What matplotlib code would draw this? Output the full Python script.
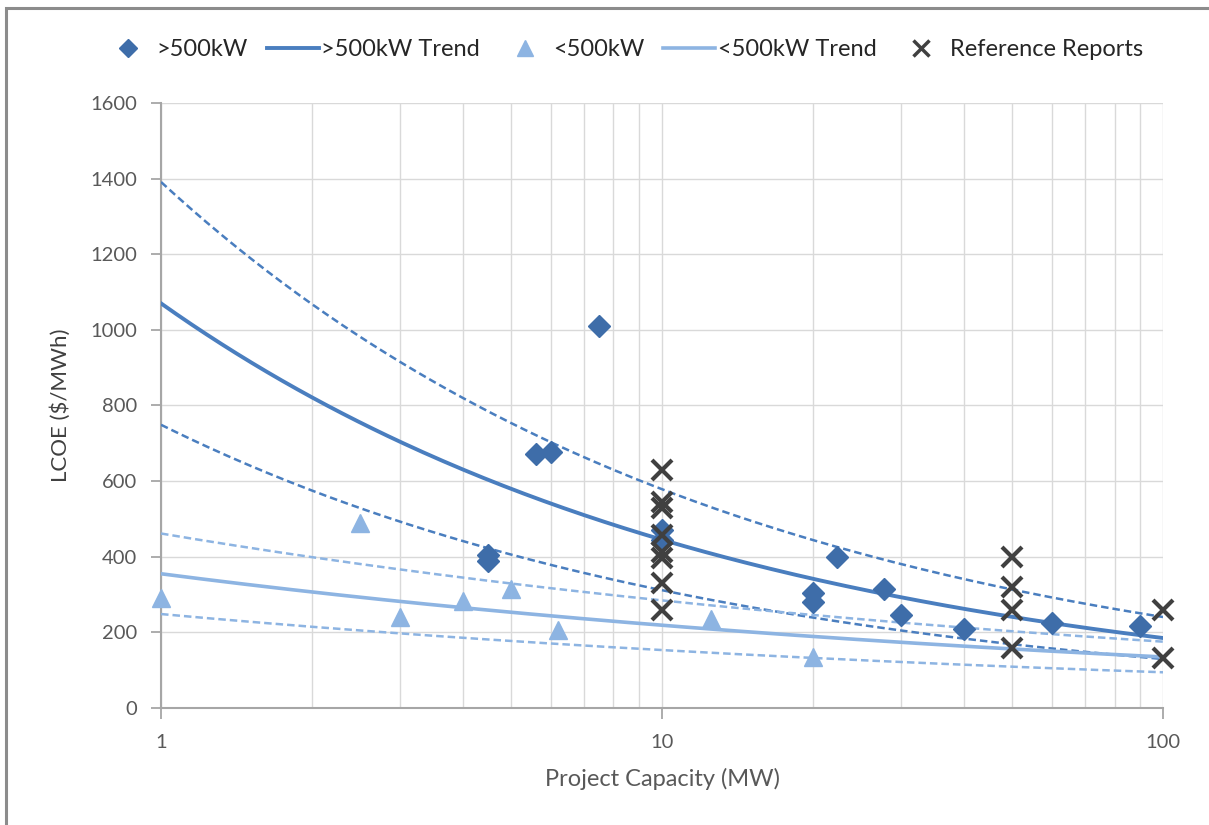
import numpy as np
import matplotlib.pyplot as plt
from matplotlib.patches import Rectangle
from matplotlib.lines import Line2D
from matplotlib.ticker import FixedLocator, NullFormatter

plt.rcParams['font.family'] = ['Lato', 'DejaVu Sans']

# >500kW projects
big_x = [4.5, 4.5, 5.6, 6.0, 7.5, 10, 10, 20, 20, 22.3, 27.7, 30, 40, 60, 90]
big_y = [404, 388, 672, 678, 1010, 471, 444, 303, 281, 400, 316, 246, 208, 226, 217]

# <500kW projects
small_x = [1, 2.5, 3, 4, 5, 6.2, 12.5, 20]
small_y = [290, 490, 241, 284, 316, 206, 235, 135]

# reference reports
ref_x = [10, 10, 10, 10, 10, 10, 10, 10, 50, 50, 50, 50, 100, 100]
ref_y = [629, 546, 529, 457, 413, 397, 330, 259, 400, 321, 259, 158, 259, 131]

# power trend lines y = a * x^b, with +/-30% bands
trend_big = (1070, -0.381)
trend_small = (355, -0.21)
band = 0.3

dark_blue = '#3E6DA9'
mid_blue = '#4A7EBF'
light_blue = '#8DB4E2'
grey = '#404040'

fig = plt.figure(figsize=(12.09, 8.25), dpi=100)
ax = fig.add_axes([0.1332, 0.1418, 0.8288, 0.7334])

xs = np.logspace(0, 2, 200)
for (a, b), col, lw in [(trend_big, mid_blue, 2.8), (trend_small, light_blue, 2.6)]:
    yt = a * xs ** b
    ax.plot(xs, yt, color=col, lw=lw, zorder=3)
    ax.plot(xs, yt * (1 + band), color=col, lw=1.8, dashes=(3, 1.6), zorder=3)
    ax.plot(xs, yt * (1 - band), color=col, lw=1.8, dashes=(3, 1.6), zorder=3)

ax.plot(big_x, big_y, 'D', color=dark_blue, ms=11.5, mec=dark_blue, zorder=4, clip_on=False)
ax.plot(small_x, small_y, '^', color=light_blue, ms=13, mec=light_blue, zorder=4, clip_on=False)
ax.plot(ref_x, ref_y, 'x', color=grey, ms=14, mew=3, zorder=5, clip_on=False)

ax.set_xscale('log')
ax.set_xlim(1, 100)
ax.set_ylim(0, 1600)
ax.set_yticks(range(0, 1601, 200))
ax.set_xticks([1, 10, 100])
ax.set_xticklabels(['1', '10', '100'])
ax.xaxis.set_minor_locator(FixedLocator([m * d for d in (1, 10) for m in range(2, 10)]))
ax.xaxis.set_minor_formatter(NullFormatter())

ax.grid(True, which='both', axis='x', color='#D9D9D9', lw=1)
ax.grid(True, which='major', axis='y', color='#D9D9D9', lw=1)
ax.set_axisbelow(True)

for s in ['top', 'right']:
    ax.spines[s].set_visible(False)
for s in ['left', 'bottom']:
    ax.spines[s].set_color('#A6A6A6')
    ax.spines[s].set_linewidth(1.5)

ax.tick_params(axis='x', which='major', length=8, width=1.3, color='#A6A6A6',
               labelsize=14.5, labelcolor='#595959', pad=11)
ax.tick_params(axis='x', which='minor', length=0)
ax.tick_params(axis='y', length=7, width=1.3, color='#A6A6A6',
               labelsize=14.5, labelcolor='#595959', pad=10)

ax.set_xlabel('Project Capacity (MW)', fontsize=17, color='#595959', labelpad=12)
ax.set_ylabel(r'LCOE (\$/MWh)', fontsize=16, color='#404040', labelpad=14)

handles = [
    Line2D([], [], marker='D', ls='none', color=dark_blue, ms=9),
    Line2D([], [], color=mid_blue, lw=2.8),
    Line2D([], [], marker='^', ls='none', color=light_blue, ms=11),
    Line2D([], [], color=light_blue, lw=2.6),
    Line2D([], [], marker='x', ls='none', color=grey, ms=12, mew=2.5),
]
labels = ['>500kW', '>500kW Trend', '<500kW', '<500kW Trend', 'Reference Reports']
fig.legend(handles, labels, loc='center', bbox_to_anchor=(0.515, 0.94), ncol=5,
           frameon=False, fontsize=17, handlelength=2.2, handletextpad=0.1,
           columnspacing=0.8, labelcolor='#262626')

fig.patches.append(Rectangle((0.005, -0.1), 1.1, 1.09, transform=fig.transFigure,
                             fill=False, edgecolor='#8C8C8C', lw=2.2))

fig.savefig('out.png', dpi=100)
